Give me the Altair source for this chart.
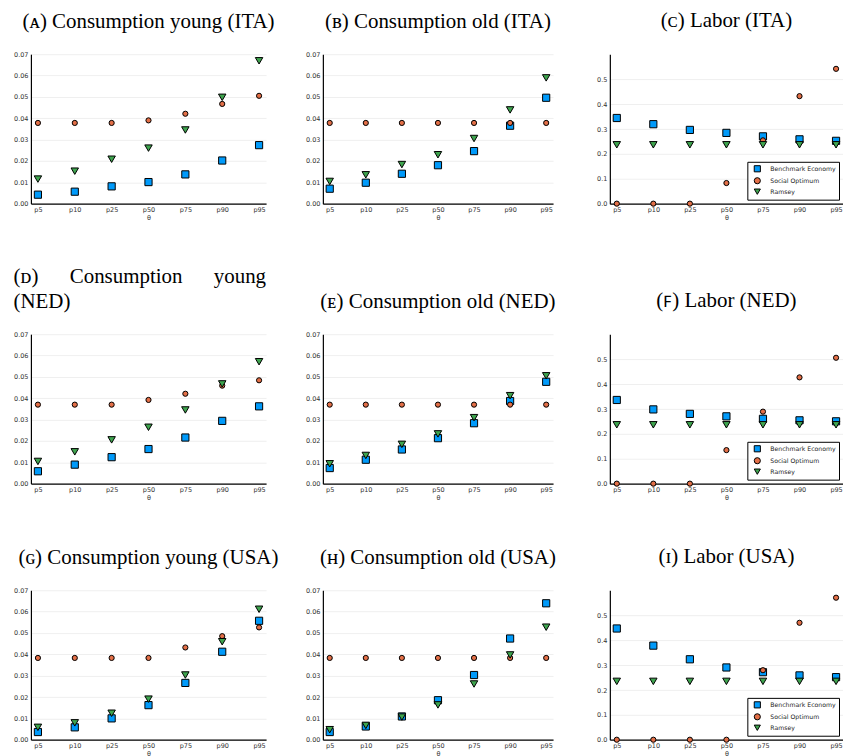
import altair as alt
import pandas as pd

# ---------------- data ----------------
theta = ["p5", "p10", "p25", "p50", "p75", "p90", "p95"]
series = ["Benchmark Economy", "Social Optimum", "Ramsey"]
colors = ["#009AFA", "#E36F47", "#3EA44E"]
shapes = ["square", "circle", "triangle-down"]
sizes = [52, 27, 56]

# (a) Consumption young (ITA)
ita_cy_bench = [0.0042, 0.0056, 0.0081, 0.0101, 0.0137, 0.0202, 0.0274]
ita_cy_so = [0.0378, 0.0378, 0.0378, 0.0390, 0.0421, 0.0467, 0.0505]
ita_cy_ram = [0.0115, 0.0152, 0.0208, 0.0260, 0.0345, 0.0498, 0.0669]
# (b) Consumption old (ITA)
ita_co_bench = [0.0070, 0.0098, 0.0140, 0.0180, 0.0246, 0.0365, 0.0496]
ita_co_so = [0.0378, 0.0378, 0.0378, 0.0378, 0.0378, 0.0378, 0.0378]
ita_co_ram = [0.0104, 0.0135, 0.0183, 0.0229, 0.0305, 0.0439, 0.0589]
# (c) Labor (ITA)
ita_l_bench = [0.345, 0.320, 0.297, 0.285, 0.271, 0.259, 0.253]
ita_l_so = [0.0, 0.0, 0.0, 0.083, 0.255, 0.433, 0.543]
ita_l_ram = [0.237, 0.237, 0.237, 0.237, 0.237, 0.237, 0.237]
# (d) Consumption young (NED)
ned_cy_bench = [0.0058, 0.0089, 0.0124, 0.0162, 0.0216, 0.0294, 0.0362]
ned_cy_so = [0.0370, 0.0370, 0.0370, 0.0392, 0.0421, 0.0459, 0.0484]
ned_cy_ram = [0.0104, 0.0149, 0.0205, 0.0264, 0.0345, 0.0467, 0.0571]
# (e) Consumption old (NED)
ned_co_bench = [0.0073, 0.0112, 0.0160, 0.0213, 0.0283, 0.0387, 0.0477]
ned_co_so = [0.0370, 0.0370, 0.0370, 0.0370, 0.0370, 0.0370, 0.0370]
ned_co_ram = [0.0093, 0.0132, 0.0184, 0.0233, 0.0309, 0.0412, 0.0505]
# (f) Labor (NED)
ned_l_bench = [0.337, 0.299, 0.281, 0.271, 0.261, 0.255, 0.251]
ned_l_so = [0.0, 0.0, 0.0, 0.135, 0.290, 0.428, 0.507]
ned_l_ram = [0.237, 0.237, 0.237, 0.237, 0.237, 0.237, 0.237]
# (g) Consumption young (USA)
usa_cy_bench = [0.0036, 0.0058, 0.0100, 0.0162, 0.0266, 0.0412, 0.0557]
usa_cy_so = [0.0383, 0.0383, 0.0383, 0.0383, 0.0432, 0.0485, 0.0526]
usa_cy_ram = [0.0058, 0.0079, 0.0124, 0.0190, 0.0303, 0.0459, 0.0611]
# (h) Consumption old (USA)
usa_co_bench = [0.0036, 0.0062, 0.0109, 0.0185, 0.0303, 0.0474, 0.0639]
usa_co_so = [0.0383, 0.0383, 0.0383, 0.0383, 0.0383, 0.0383, 0.0383]
usa_co_ram = [0.0047, 0.0067, 0.0106, 0.0163, 0.0261, 0.0397, 0.0527]
# (i) Labor (USA)
usa_l_bench = [0.448, 0.379, 0.324, 0.291, 0.272, 0.259, 0.252]
usa_l_so = [0.0, 0.0, 0.0, 0.0, 0.280, 0.471, 0.572]
usa_l_ram = [0.235, 0.235, 0.235, 0.235, 0.235, 0.235, 0.235]

cons_ticks = [0.0, 0.01, 0.02, 0.03, 0.04, 0.05, 0.06, 0.07]
labor_ticks = [0.0, 0.1, 0.2, 0.3, 0.4, 0.5]

NB = "\u00a0"
titles = [
    "(ᴀ) Consumption young (ITA)",
    "(ʙ) Consumption old (ITA)",
    "(ᴄ) Labor (ITA)",
    ["(ᴅ)" + NB * 6 + "Consumption" + NB * 6 + "young", "(NED)"],
    "(ᴇ) Consumption old (NED)",
    "(ꜰ) Labor (NED)",
    "(ɢ) Consumption young (USA)",
    "(ʜ) Consumption old (USA)",
    "(ɪ) Labor (USA)",
]
panel_values = [
    (ita_cy_bench, ita_cy_so, ita_cy_ram),
    (ita_co_bench, ita_co_so, ita_co_ram),
    (ita_l_bench, ita_l_so, ita_l_ram),
    (ned_cy_bench, ned_cy_so, ned_cy_ram),
    (ned_co_bench, ned_co_so, ned_co_ram),
    (ned_l_bench, ned_l_so, ned_l_ram),
    (usa_cy_bench, usa_cy_so, usa_cy_ram),
    (usa_co_bench, usa_co_so, usa_co_ram),
    (usa_l_bench, usa_l_so, usa_l_ram),
]

widths = [236, 231, 234]
PH = 150


def make_panel(idx):
    col = idx % 3
    labor = col == 2
    rows = []
    for s, vals in zip(series, panel_values[idx]):
        for t, v in zip(theta, vals):
            rows.append({"theta": t, "value": v, "series": s})
    df = pd.DataFrame(rows)

    if labor:
        yscale = alt.Scale(domain=[0, 0.602], nice=False, zero=True)
        yaxis = alt.Axis(values=labor_ticks, format=".1f", title=None)
        legend = alt.Legend(
            title=None, orient="bottom-right", offset=4, padding=3,
            strokeColor="black", fillColor="white", cornerRadius=0,
            labelFont="DejaVu Sans", labelFontSize=6.2, labelColor="#222",
            symbolSize=38, symbolStrokeColor="black", symbolStrokeWidth=1,
            rowPadding=0, labelOffset=9, symbolOffset=3,
        )
        toff = 6
    else:
        yscale = alt.Scale(domain=[0, 0.07], nice=False, zero=True)
        yaxis = alt.Axis(values=cons_ticks, format=".2f", title=None)
        legend = None
        toff = 2

    t = titles[idx]
    if isinstance(t, list):
        tp = alt.TitleParams(text=t, anchor="start", align="left",
                             baseline="alphabetic", offset=toff, lineHeight=25)
    else:
        tp = alt.TitleParams(text=t, anchor="middle", baseline="alphabetic",
                             offset=toff)

    base = alt.Chart(df).encode(
        x=alt.X("theta:N", scale=alt.Scale(type="point", domain=theta, padding=0.19),
                axis=alt.Axis(title="θ", labelAngle=0)),
        y=alt.Y("value:Q", scale=yscale, axis=yaxis),
        color=alt.Color("series:N", scale=alt.Scale(domain=series, range=colors),
                        legend=legend),
        shape=alt.Shape("series:N", scale=alt.Scale(domain=series, range=shapes),
                        legend=legend),
    )
    layers = [
        base.transform_filter(alt.datum.series == s).mark_point(
            filled=True, stroke="black", strokeWidth=1, opacity=1, size=sz
        )
        for s, sz in zip(series, sizes)
    ]
    return alt.layer(*layers, title=tp).properties(width=widths[col], height=PH)


def indep(c):
    return c.resolve_scale(color="independent", shape="independent") \
            .resolve_legend(color="independent", shape="independent")


rows = []
for r in range(3):
    row = alt.hconcat(*[make_panel(3 * r + c) for c in range(3)], spacing=57, bounds="flush")
    rows.append(indep(row))

chart = indep(alt.vconcat(*rows, spacing=46)).properties(
    padding={"left": 5, "top": 1, "right": 0, "bottom": 0}
).configure_view(stroke=None).configure_title(
    font="Liberation Serif", fontSize=21, fontWeight="normal", color="black"
).configure_legend(
    symbolSize=38, rowPadding=0
).configure_axis(
    labelFont="DejaVu Sans", labelFontSize=6.5, labelColor="#333",
    titleFont="DejaVu Sans", titleFontSize=6.5, titleFontWeight="normal", titleColor="#333",
    titlePadding=1, labelPadding=3,
    domainColor="black", domainWidth=1.2, ticks=False,
    gridColor="#e4e4e4", gridWidth=0.6,
)

chart.save("out.html", embed_options={"renderer": "svg", "actions": False})
